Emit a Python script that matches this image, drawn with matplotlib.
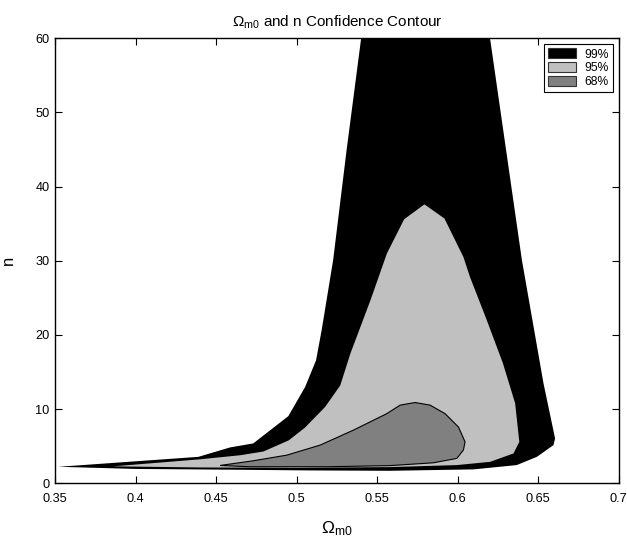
import matplotlib
matplotlib.use('Agg')
import matplotlib.pyplot as plt
from matplotlib.patches import Patch

plt.rcParams['font.family'] = ['Liberation Sans', 'DejaVu Sans']
plt.rcParams['mathtext.fontset'] = 'custom'
plt.rcParams['mathtext.rm'] = 'Liberation Sans'
plt.rcParams['mathtext.it'] = 'Liberation Sans:italic'

# Contour outlines (Omega_m0, n)
c99_x = [0.540, 0.531, 0.5226, 0.5155, 0.5120, 0.5052, 0.4948, 0.4730, 0.4586, 0.4389, 0.352,
         0.40, 0.4586, 0.5080, 0.558, 0.6097, 0.6366, 0.6491, 0.6594, 0.6604,
         0.6532, 0.6398, 0.620]
c99_y = [60.0, 45.0, 30.1, 20.7, 16.6, 13.0, 9.07, 5.39, 4.85, 3.58, 2.24,
         1.95, 1.85, 1.75, 1.70, 1.89, 2.47, 3.58, 5.16, 6.06,
         13.5, 30.1, 60.0]

c95_x = [0.386, 0.44, 0.465, 0.4793, 0.495, 0.505, 0.5176, 0.527, 0.5333, 0.5458, 0.556,
         0.5667, 0.5793, 0.5917, 0.6035, 0.6076, 0.618, 0.628, 0.6356, 0.6382, 0.6377,
         0.6346, 0.6201, 0.5994, 0.558, 0.50, 0.44]
c95_y = [2.3, 3.25, 3.8, 4.3, 5.8, 7.5, 10.3, 13.2, 17.5, 24.7, 31.0,
         35.6, 37.6, 35.7, 30.5, 27.8, 22.0, 16.2, 10.8, 5.6, 5.39,
         4.04, 2.91, 2.47, 2.2, 2.1, 2.15]

c68_x = [0.4524, 0.473, 0.4938, 0.5145, 0.5352, 0.5559, 0.5642, 0.5735, 0.5828, 0.5921,
         0.6004, 0.6045, 0.6035, 0.5994, 0.5849, 0.558, 0.52, 0.47]
c68_y = [2.42, 3.05, 3.81, 5.16, 7.18, 9.4, 10.55, 10.9, 10.55, 9.4,
         7.6, 5.6, 4.5, 3.37, 2.78, 2.4, 2.25, 2.25]

levels = ['99%', '95%', '68%']
colors = ['#000000', '#c0c0c0', '#808080']

xticks = [0.35, 0.4, 0.45, 0.5, 0.55, 0.6, 0.65, 0.7]
xtick_labels = ['0.35', '0.4', '0.45', '0.5', '0.55', '0.6', '0.65', '0.7']
yticks = [0, 10, 20, 30, 40, 50, 60]

fig = plt.figure(figsize=(6.27, 5.45), dpi=100)
ax = fig.add_axes([0.088, 0.113, 0.899, 0.817])

ax.fill(c99_x, c99_y, color=colors[0], edgecolor='none', zorder=1)
ax.fill(c95_x, c95_y, color=colors[1], edgecolor='none', zorder=2)
ax.fill(c68_x, c68_y, facecolor=colors[2], edgecolor='black', linewidth=0.8, zorder=3)

ax.set_xlim(0.35, 0.7)
ax.set_ylim(0, 60)
ax.set_xticks(xticks)
ax.set_xticklabels(xtick_labels)
ax.set_yticks(yticks)
ax.tick_params(direction='in', length=5, width=0.8, labelsize=9.2,
               top=True, right=True, pad=4)
ax.tick_params(axis='x', pad=7)
for s in ax.spines.values():
    s.set_linewidth(1.0)

ax.set_title(r'$\Omega_{\rm m0}$ and n Confidence Contour', fontsize=11, pad=8)
ax.set_xlabel(r'$\Omega_{\rm m0}$', fontsize=12.5, labelpad=10)
ax.set_ylabel('n', fontsize=12, labelpad=14)

handles = [Patch(facecolor=colors[i], edgecolor='#333333', linewidth=0.8, label=levels[i])
           for i in range(3)]
leg = ax.legend(handles=handles, loc='upper right', fontsize=8.7, fancybox=False,
                framealpha=1, edgecolor='black', borderaxespad=0.5,
                handlelength=2.3, handleheight=0.9, handletextpad=0.7,
                labelspacing=0.12, borderpad=0.35)
leg.get_frame().set_linewidth(0.8)

fig.savefig('out.png', dpi=100)
